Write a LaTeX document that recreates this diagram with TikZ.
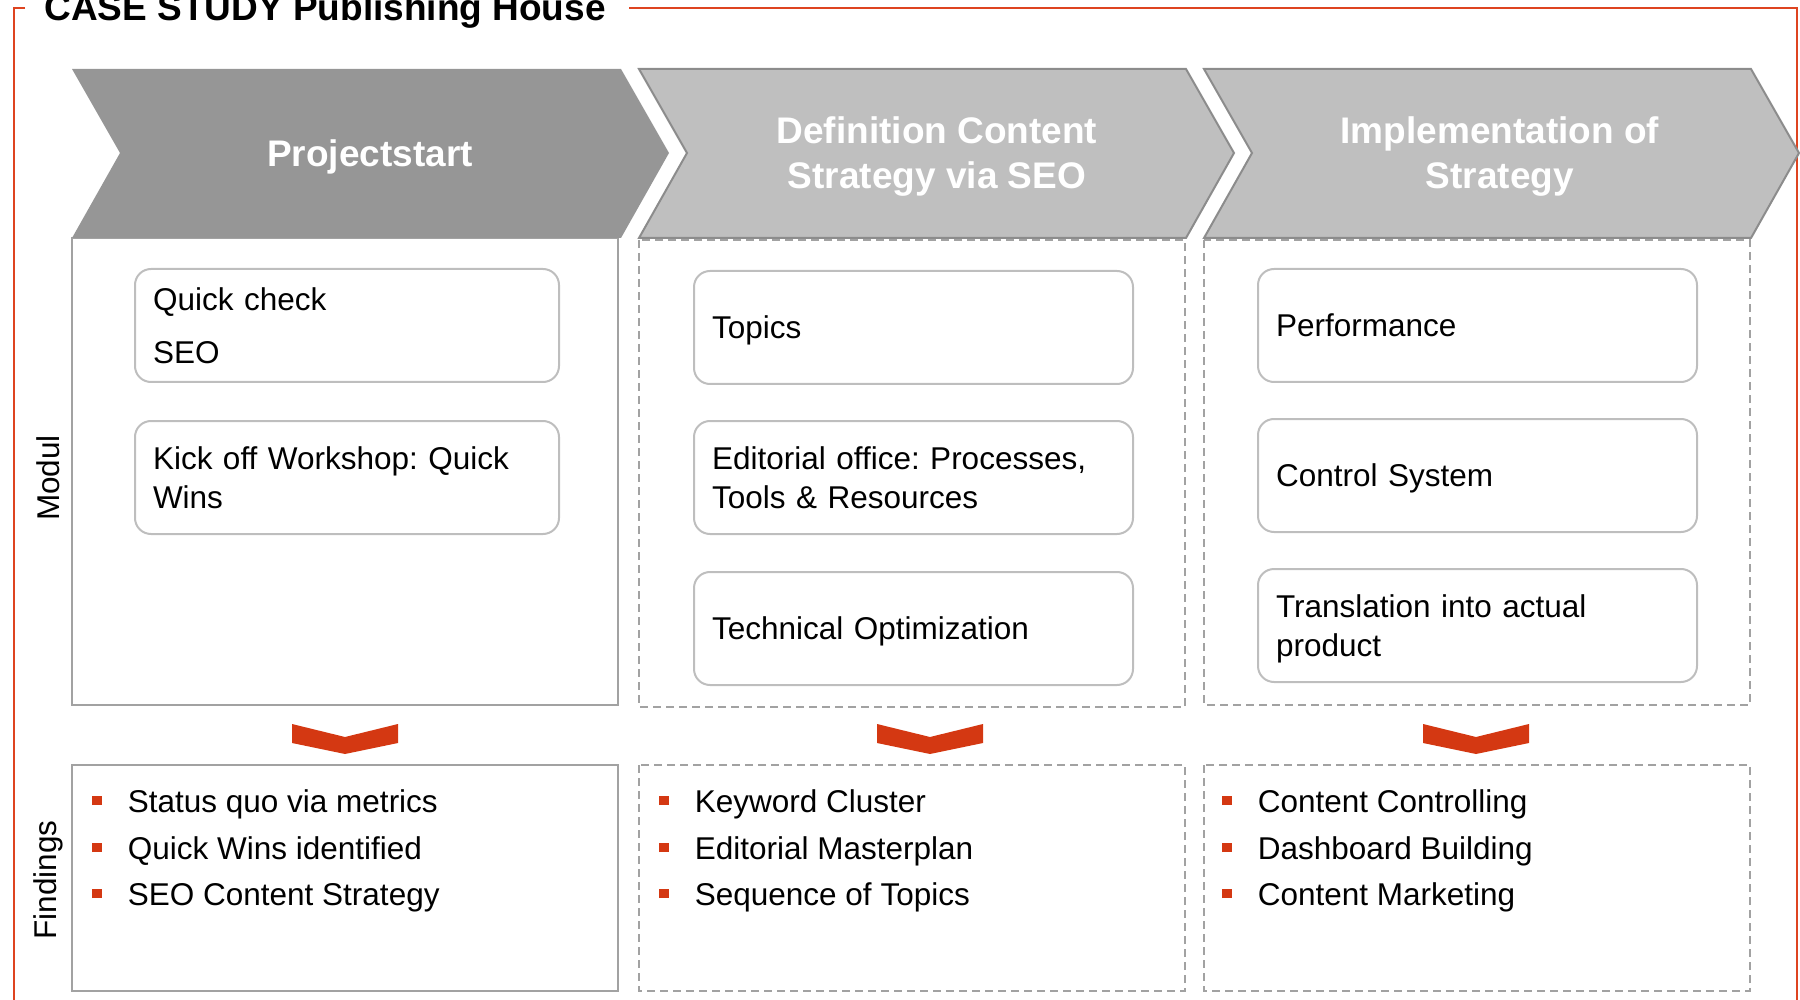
\documentclass[tikz,border=0pt]{standalone}
\usepackage{fontspec}
\setmainfont{Liberation Sans}
\usepackage{xcolor}
\usetikzlibrary{positioning}
\definecolor{hdark}{RGB}{150,150,150}
\definecolor{hlight}{RGB}{191,191,191}
\definecolor{hline}{RGB}{140,140,140}
\definecolor{boxline}{RGB}{162,162,162}
\definecolor{itemline}{RGB}{190,190,190}
\definecolor{redmark}{RGB}{212,56,18}
\definecolor{framered}{RGB}{222,68,32}
\frenchspacing
\newcommand\findbullet{\textcolor{redmark}{\rule[3.5pt]{4.75pt}{4.75pt}}\hspace{13pt}}
\tikzset{
  head text/.style={
    text=white,
    font=\bfseries\fontsize{18.5}{22.5}\selectfont,
    align=center
  },
  solid box/.style={
    draw=boxline,
    line width=1.2pt
  },
  dash box/.style={
    draw=boxline,
    line width=1.1pt,
    dash pattern=on 4pt off 2.5pt
  },
  item/.style={
    draw=itemline,
    line width=1pt,
    rounded corners=8pt,
    anchor=north west,
    minimum height=56.5pt,
    inner xsep=9pt,
    align=left,
    font=\fontsize{15.75}{19.5}\selectfont
  },
  wide item/.style={
    item,
    text width=201.5pt,
    minimum width=219.5pt
  },
  narrow item/.style={
    item,
    text width=194pt,
    minimum width=212pt
  },
  one line/.style={
    text depth=0pt
  },
  finding/.style={
    anchor=base west,
    inner sep=0pt,
    font=\fontsize{15.75}{19.5}\selectfont
  },
  side label/.style={
    rotate=90,
    font=\fontsize{15.75}{19.5}\selectfont
  }
}

\begin{document}
\begin{tikzpicture}[x=0.5pt, y=-0.5pt]
  \useasboundingbox (0,0) rectangle (1800,1000);

  %% frame and title
  \draw[framered, line width=1pt] (25,8) -- (14,8) -- (14,1010);
  \draw[framered, line width=1pt] (629,8) -- (1797,8) -- (1797,1010);
  \node[anchor=base west, inner sep=0pt, font=\bfseries\fontsize{18.5}{22}\selectfont] (title) at (44,21) {CASE STUDY Publishing House};

  %% module boxes
  \draw[solid box] (72,238) rectangle (618,705);
  \draw[dash box] (639,240) rectangle (1185,707);
  \draw[dash box] (1204,240) rectangle (1750,705);

  %% phase headers
  \fill[hdark] (72,69) -- (621,69) -- (669,153) -- (621,238) -- (72,238) -- (120,153) -- cycle;
  \filldraw[fill=hlight, draw=hline, line width=1pt] (639,69) -- (1186,69) -- (1234,153) -- (1186,238) -- (639,238) -- (687,153) -- cycle;
  \filldraw[fill=hlight, draw=hline, line width=1pt] (1204,69) -- (1751,69) -- (1799,153) -- (1751,238) -- (1204,238) -- (1252,153) -- cycle;
  \node[head text] (start) at (370,157) {Projectstart};
  \node[head text] (define) at (937,157) {Definition Content\\Strategy via SEO};
  \node[head text] (implement) at (1500,157) {Implementation of\\Strategy};

  %% Projectstart
  \node[narrow item] (quick) at (134,268) {Quick check\\[7pt]SEO};
  \node[narrow item] (kickoff) at (134,420) {Kick off Workshop: Quick\\Wins};

  %% Definition
  \node[wide item, one line] (topics) at (693,270) {Topics};
  \node[wide item] (office) at (693,420) {Editorial office: Processes,\\Tools \& Resources};
  \node[wide item, one line] (techopt) at (693,571) {Technical Optimization};

  %% Implementation
  \node[wide item, one line] (perf) at (1257,268) {Performance};
  \node[wide item, one line] (control) at (1257,418) {Control System};
  \node[wide item, text depth=19.5pt] (transl) at (1257,568) {Translation into actual\\product};

  %% red arrows
  \fill[redmark] (292,724) -- (345,737) -- (398,724) -- (398,743) -- (345,754) -- (292,743) -- cycle;
  \fill[redmark] (877,724) -- (930,737) -- (983,724) -- (983,743) -- (930,754) -- (877,743) -- cycle;
  \fill[redmark] (1423,724) -- (1476,737) -- (1529,724) -- (1529,743) -- (1476,754) -- (1423,743) -- cycle;

  %% findings boxes
  \draw[solid box] (72,765) rectangle (618,991);
  \draw[dash box] (639,765) rectangle (1185,991);
  \draw[dash box] (1204,765) rectangle (1750,991);

  \node[finding] (status) at (92,812) {\findbullet Status quo via metrics};
  \node[finding] (wins) at (92,859) {\findbullet Quick Wins identified};
  \node[finding] (seocs) at (92,905) {\findbullet SEO Content Strategy};

  \node[finding] (cluster) at (659,812) {\findbullet Keyword Cluster};
  \node[finding] (master) at (659,859) {\findbullet Editorial Masterplan};
  \node[finding] (sequence) at (659,905) {\findbullet Sequence of Topics};

  \node[finding] (controlling) at (1222,812) {\findbullet Content Controlling};
  \node[finding] (dashboard) at (1222,859) {\findbullet Dashboard Building};
  \node[finding] (marketing) at (1222,905) {\findbullet Content Marketing};

  %% row labels
  \node[side label] (modul) at (48,478) {Modul};
  \node[side label] (findings) at (48,880) {Findings};
\end{tikzpicture}
\end{document}
